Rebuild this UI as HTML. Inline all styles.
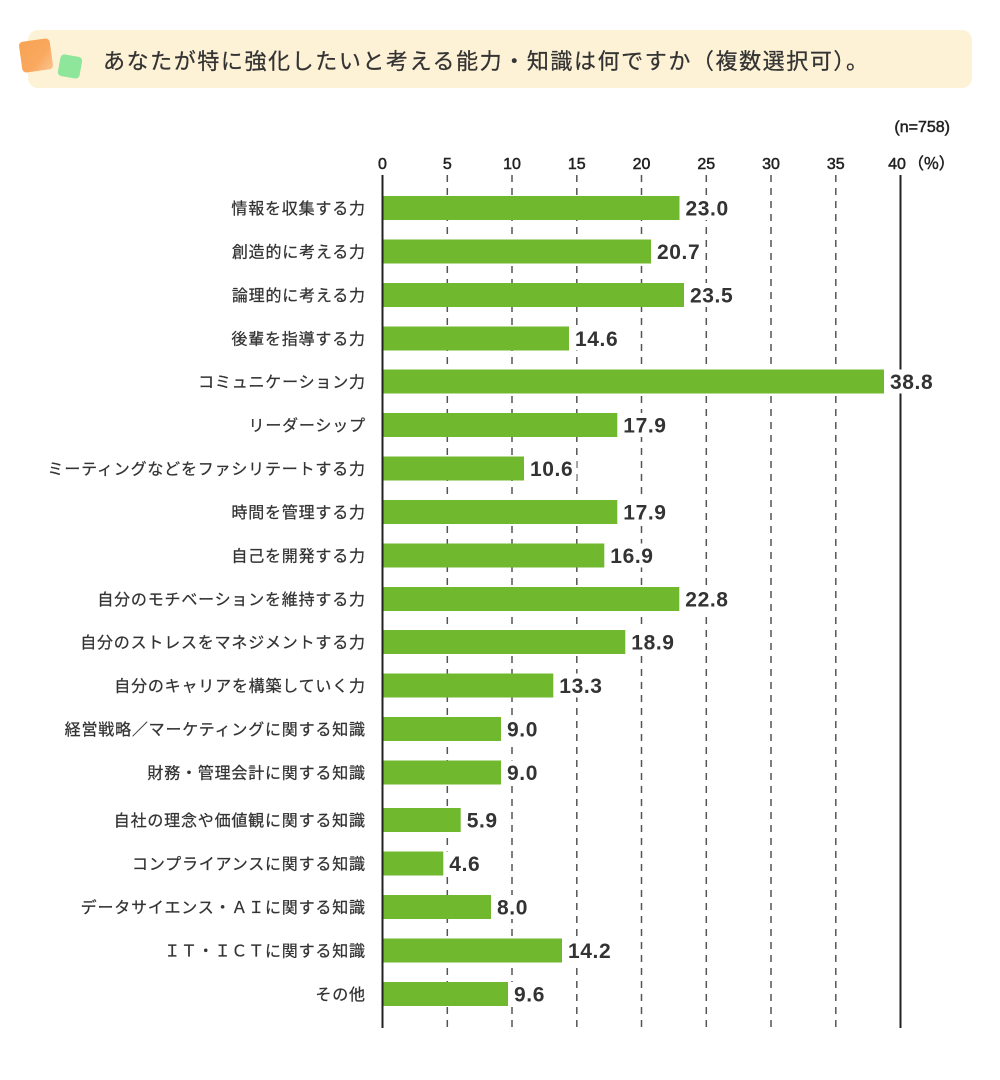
<!DOCTYPE html>
<html lang="ja">
<head>
<meta charset="utf-8">
<style>
  html,body{margin:0;padding:0;background:#fff;}
  body{width:1000px;height:1080px;overflow:hidden;}
  svg{display:block;}
  .lbl{font-family:"Liberation Sans","Noto Sans CJK JP",sans-serif;font-size:16px;fill:#333;stroke:#333;stroke-width:0.25px;letter-spacing:0.8px;}
  .val{font-family:"Liberation Sans","Noto Sans CJK JP",sans-serif;font-size:21px;font-weight:bold;fill:#333;letter-spacing:0.6px;}
  .tick{font-family:"Liberation Sans","Noto Sans CJK JP",sans-serif;font-size:16px;fill:#222;stroke:#222;stroke-width:0.5px;}
  .title{font-family:"Liberation Sans","Noto Sans CJK JP",sans-serif;font-size:22px;fill:#333;stroke:#333;stroke-width:0.25px;}
</style>
</head>
<body>
<svg width="1000" height="1080" viewBox="0 0 1000 1080" xmlns="http://www.w3.org/2000/svg">
  <defs>
    <linearGradient id="og" x1="0" y1="0" x2="1" y2="1">
      <stop offset="0" stop-color="#f8a354"/>
      <stop offset="0.6" stop-color="#f9a85e"/>
      <stop offset="1" stop-color="#fbc48f"/>
    </linearGradient>
  </defs>
  <!-- header -->
  <rect x="28" y="30" width="944" height="58" rx="10" ry="10" fill="#fef2d6"/>
  <rect x="20.5" y="40" width="31" height="31" rx="4" fill="url(#og)" transform="rotate(-8 36 55.5)"/>
  <rect x="59" y="55.5" width="22" height="22" rx="4" fill="#8ee69b" transform="rotate(10 70 66.5)"/>
  <text class="title" x="103" y="69" textLength="765" lengthAdjust="spacing">あなたが特に強化したいと考える能力・知識は何ですか（複数選択可）。</text>

  <!-- n -->
  <text class="tick" x="950" y="132" text-anchor="end">(n=758)</text>

  <!-- tick labels -->
  <g class="tick" text-anchor="middle">
    <text x="382.5" y="169">0</text>
    <text x="447.3" y="169">5</text>
    <text x="512" y="169">10</text>
    <text x="576.8" y="169">15</text>
    <text x="641.5" y="169">20</text>
    <text x="706.3" y="169">25</text>
    <text x="771" y="169">30</text>
    <text x="835.8" y="169">35</text>
    <text x="897" y="169">40</text>
  </g>
  <text class="tick" x="908" y="169" style="font-family:'Noto Sans CJK JP',sans-serif;">（%）</text>

  <!-- gridlines -->
  <g stroke="#555" stroke-width="1.5" stroke-dasharray="7 6">
    <line x1="447.3" y1="175" x2="447.3" y2="1028"/>
    <line x1="512" y1="175" x2="512" y2="1028"/>
    <line x1="576.8" y1="175" x2="576.8" y2="1028"/>
    <line x1="641.5" y1="175" x2="641.5" y2="1028"/>
    <line x1="706.3" y1="175" x2="706.3" y2="1028"/>
    <line x1="771" y1="175" x2="771" y2="1028"/>
    <line x1="835.8" y1="175" x2="835.8" y2="1028"/>
  </g>
  <line x1="900.5" y1="175" x2="900.5" y2="1028" stroke="#222" stroke-width="2"/>

  <!-- bars -->
  <g fill="#70b82e">
    <rect x="383.5" y="196" width="296" height="24"/>
    <rect x="383.5" y="239.5" width="267.5" height="24"/>
    <rect x="383.5" y="283" width="300.5" height="24"/>
    <rect x="383.5" y="326.5" width="185.5" height="24"/>
    <rect x="383.5" y="369.5" width="500.5" height="24"/>
    <rect x="383.5" y="413" width="233.8" height="24"/>
    <rect x="383.5" y="456.5" width="140.5" height="24"/>
    <rect x="383.5" y="500" width="233.8" height="24"/>
    <rect x="383.5" y="543.5" width="220.8" height="24"/>
    <rect x="383.5" y="587" width="295.8" height="24"/>
    <rect x="383.5" y="630" width="241.8" height="24"/>
    <rect x="383.5" y="673.5" width="169.8" height="24"/>
    <rect x="383.5" y="717" width="117.5" height="24"/>
    <rect x="383.5" y="760.5" width="117.5" height="24"/>
    <rect x="383.5" y="808" width="77.2" height="24"/>
    <rect x="383.5" y="851.5" width="59.8" height="24"/>
    <rect x="383.5" y="895" width="107.5" height="24"/>
    <rect x="383.5" y="938.5" width="178.5" height="24"/>
    <rect x="383.5" y="982" width="124.5" height="24"/>
  </g>

  <!-- value label backgrounds -->
  <g fill="#fff">
    <rect x="682" y="196" width="50" height="24"/>
    <rect x="653.5" y="239.5" width="50" height="24"/>
    <rect x="686.5" y="283" width="50" height="24"/>
    <rect x="571.5" y="326.5" width="50" height="24"/>
    <rect x="886.5" y="369.5" width="50" height="24"/>
    <rect x="619.8" y="413" width="50" height="24"/>
    <rect x="526.5" y="456.5" width="50" height="24"/>
    <rect x="619.8" y="500" width="50" height="24"/>
    <rect x="606.8" y="543.5" width="50" height="24"/>
    <rect x="681.8" y="587" width="50" height="24"/>
    <rect x="627.8" y="630" width="50" height="24"/>
    <rect x="555.8" y="673.5" width="50" height="24"/>
    <rect x="503.5" y="717" width="38" height="24"/>
    <rect x="503.5" y="760.5" width="38" height="24"/>
    <rect x="463.2" y="808" width="38" height="24"/>
    <rect x="445.8" y="851.5" width="38" height="24"/>
    <rect x="493.5" y="895" width="38" height="24"/>
    <rect x="564.5" y="938.5" width="50" height="24"/>
    <rect x="510.5" y="982" width="38" height="24"/>
  </g>

  <!-- zero axis -->
  <line x1="382.5" y1="175" x2="382.5" y2="1028" stroke="#222" stroke-width="2"/>

  <!-- values -->
  <g class="val">
    <text x="685.5" y="215.5">23.0</text>
    <text x="657" y="259">20.7</text>
    <text x="690" y="302.5">23.5</text>
    <text x="575" y="346">14.6</text>
    <text x="890" y="389">38.8</text>
    <text x="623.3" y="432.5">17.9</text>
    <text x="530" y="476">10.6</text>
    <text x="623.3" y="519.5">17.9</text>
    <text x="610.3" y="563">16.9</text>
    <text x="685.3" y="606.5">22.8</text>
    <text x="631.3" y="649.5">18.9</text>
    <text x="559.3" y="693">13.3</text>
    <text x="507" y="736.5">9.0</text>
    <text x="507" y="780">9.0</text>
    <text x="466.7" y="827.5">5.9</text>
    <text x="449.3" y="871">4.6</text>
    <text x="497" y="914.5">8.0</text>
    <text x="568" y="958">14.2</text>
    <text x="514" y="1001.5">9.6</text>
  </g>

  <!-- category labels -->
  <g class="lbl" text-anchor="end">
    <text x="365.8" y="214">情報を収集する力</text>
    <text x="365.8" y="257.5">創造的に考える力</text>
    <text x="365.8" y="301">論理的に考える力</text>
    <text x="365.8" y="344.5">後輩を指導する力</text>
    <text x="365.8" y="387.5">コミュニケーション力</text>
    <text x="365.8" y="431">リーダーシップ</text>
    <text x="365.8" y="474.5">ミーティングなどをファシリテートする力</text>
    <text x="365.8" y="518">時間を管理する力</text>
    <text x="365.8" y="561.5">自己を開発する力</text>
    <text x="365.8" y="605">自分のモチベーションを維持する力</text>
    <text x="365.8" y="648">自分のストレスをマネジメントする力</text>
    <text x="365.8" y="691.5">自分のキャリアを構築していく力</text>
    <text x="365.8" y="735">経営戦略／マーケティングに関する知識</text>
    <text x="365.8" y="778.5">財務・管理会計に関する知識</text>
    <text x="365.8" y="826">自社の理念や価値観に関する知識</text>
    <text x="365.8" y="869.5">コンプライアンスに関する知識</text>
    <text x="365.8" y="913">データサイエンス・ＡＩに関する知識</text>
    <text x="365.8" y="956.5">ＩＴ・ＩＣＴに関する知識</text>
    <text x="365.8" y="1000">その他</text>
  </g>
</svg>
</body>
</html>
